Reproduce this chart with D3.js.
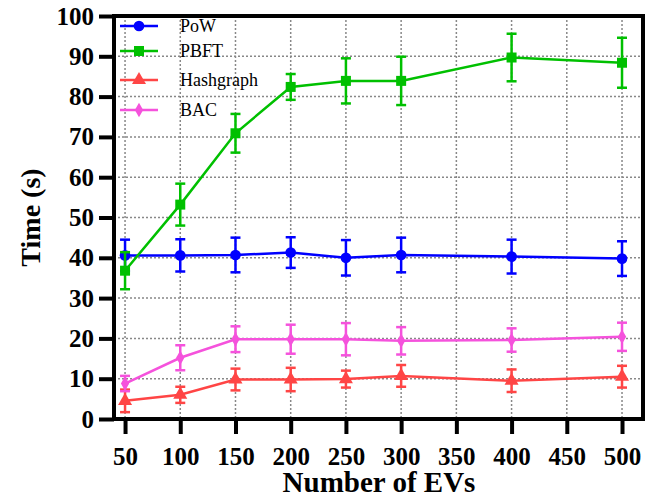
<!DOCTYPE html>
<html>
<head>
<meta charset="utf-8">
<script src="https://cdn.jsdelivr.net/npm/d3@7"></script>
<style>
  body { margin: 0; background: #fff; }
  svg { display: block; }
  text { font-family: "Liberation Serif", "Times New Roman", serif; }
</style>
</head>
<body>
<svg id="chart" width="656" height="499"></svg>
<script>
// x positions (number of EVs)
const evs = [50, 100, 150, 200, 250, 300, 400, 500];
const xTicks = [50, 100, 150, 200, 250, 300, 350, 400, 450, 500];
const yTicks = [0, 10, 20, 30, 40, 50, 60, 70, 80, 90, 100];

// mean times and error half-widths
const powMean  = [40.6, 40.6, 40.7, 41.3, 40.0, 40.7, 40.3, 39.8];
const powErr   = [3.9, 4.0, 4.3, 3.8, 4.4, 4.3, 4.2, 4.3];
const pbftMean = [36.8, 53.2, 70.9, 82.4, 83.9, 83.9, 89.7, 88.4];
const pbftErr  = [4.6, 5.2, 4.8, 3.2, 5.6, 6.0, 5.9, 6.2];
const hashMean = [4.5, 6.0, 9.8, 9.8, 9.9, 10.7, 9.5, 10.5];
const hashErr  = [2.8, 2.0, 2.7, 2.9, 2.1, 2.7, 2.8, 2.7];
const bacMean  = [8.8, 15.2, 19.8, 19.8, 19.8, 19.4, 19.6, 20.4];
const bacErr   = [1.9, 3.1, 3.2, 3.6, 4.0, 3.4, 2.9, 3.5];

const seriesNames = ["PoW", "PBFT", "Hashgraph", "BAC"];
const seriesColors = ["#0000ff", "#00c000", "#ff4545", "#f552dc"];
const seriesShapes = [d3.symbolCircle, d3.symbolSquare, d3.symbolTriangle, d3.symbolDiamond];
const seriesSizes = [90, 100, 85, 60];

const series = [
  { mean: powMean, err: powErr },
  { mean: pbftMean, err: pbftErr },
  { mean: hashMean, err: hashErr },
  { mean: bacMean, err: bacErr }
];

const svg = d3.select("#chart");
const plotL = 114, plotR = 643, plotT = 16, plotB = 419;

const x = d3.scaleLinear().domain([40, 519]).range([plotL, plotR]);
const y = d3.scaleLinear().domain([0, 100]).range([plotB, plotT]);

// dotted grid
const grid = svg.append("g");
grid.selectAll(".gx").data(xTicks).enter().append("line")
  .attr("x1", d => x(d)).attr("x2", d => x(d))
  .attr("y1", plotT).attr("y2", plotB)
  .attr("stroke", "#888").attr("stroke-width", 1.5).attr("stroke-dasharray", "2,2");
grid.selectAll(".gy").data(yTicks.filter(d => d > 0 && d < 100)).enter().append("line")
  .attr("x1", plotL).attr("x2", plotR)
  .attr("y1", d => y(d)).attr("y2", d => y(d))
  .attr("stroke", "#888").attr("stroke-width", 1.5).attr("stroke-dasharray", "2,2");

// series
series.forEach((s, i) => {
  const g = svg.append("g");
  const col = seriesColors[i];
  const pts = evs.map((v, j) => ({ x: v, m: s.mean[j], e: s.err[j] }));

  g.append("path").datum(pts)
    .attr("fill", "none").attr("stroke", col).attr("stroke-width", 2.5)
    .attr("d", d3.line().x(d => x(d.x)).y(d => y(d.m)));

  // error bars
  const eb = g.selectAll(".eb").data(pts).enter().append("g")
    .attr("stroke", col).attr("stroke-width", 2.5);
  eb.append("line")
    .attr("x1", d => x(d.x)).attr("x2", d => x(d.x))
    .attr("y1", d => y(d.m - d.e)).attr("y2", d => y(d.m + d.e));
  eb.append("line")
    .attr("x1", d => x(d.x) - 5).attr("x2", d => x(d.x) + 5)
    .attr("y1", d => y(d.m + d.e)).attr("y2", d => y(d.m + d.e));
  eb.append("line")
    .attr("x1", d => x(d.x) - 5).attr("x2", d => x(d.x) + 5)
    .attr("y1", d => y(d.m - d.e)).attr("y2", d => y(d.m - d.e));

  g.selectAll(".mk").data(pts).enter().append("path")
    .attr("transform", d => `translate(${x(d.x)},${y(d.m)})`)
    .attr("d", d3.symbol().type(seriesShapes[i]).size(seriesSizes[i]))
    .attr("fill", col);
});

// frame
svg.append("rect")
  .attr("x", plotL).attr("y", plotT)
  .attr("width", plotR - plotL).attr("height", plotB - plotT)
  .attr("fill", "none").attr("stroke", "#000").attr("stroke-width", 4);

// axes
const xAxis = svg.append("g")
  .attr("transform", `translate(0,${plotB})`)
  .call(d3.axisBottom(x).tickValues(xTicks).tickSize(15).tickPadding(13));
const yAxis = svg.append("g")
  .attr("transform", `translate(${plotL},0)`)
  .call(d3.axisLeft(y).tickValues(yTicks).tickSize(15).tickPadding(5));

[xAxis, yAxis].forEach(a => {
  a.select(".domain").remove();
  a.selectAll(".tick line").attr("stroke", "#000").attr("stroke-width", 4);
  a.selectAll(".tick text")
    .attr("fill", "#000")
    .style("font-family", "'Liberation Serif', serif")
    .style("font-size", "25px").style("font-weight", "bold");
});

// axis titles
svg.append("text")
  .attr("x", (plotL + plotR) / 2 + 0.5).attr("y", 492)
  .attr("text-anchor", "middle")
  .style("font-size", "29px").style("font-weight", "bold")
  .text("Number of EVs");
svg.append("text")
  .attr("transform", `translate(40,${(plotT + plotB) / 2}) rotate(-90)`)
  .attr("text-anchor", "middle")
  .style("font-size", "28px").style("font-weight", "bold")
  .text("Time (s)");

// legend
const legendY = [26, 51, 80, 110];
const legend = svg.append("g");
seriesNames.forEach((name, i) => {
  const ly = legendY[i];
  legend.append("line")
    .attr("x1", 120).attr("x2", 158).attr("y1", ly).attr("y2", ly)
    .attr("stroke", seriesColors[i]).attr("stroke-width", 2.5);
  legend.append("path")
    .attr("transform", `translate(139,${ly})`)
    .attr("d", d3.symbol().type(seriesShapes[i]).size(seriesSizes[i]))
    .attr("fill", seriesColors[i]);
  legend.append("text")
    .attr("x", 180).attr("y", ly + 6)
    .style("font-size", "18px")
    .text(name);
});
</script>
</body>
</html>
